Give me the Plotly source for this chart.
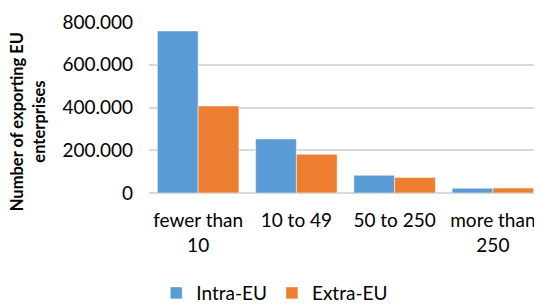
import plotly.graph_objects as go

categories = ["fewer than<br>10", "10 to 49", "50 to 250", "more than<br>250"]
intra_eu = [758000, 253000, 83000, 22000]
extra_eu = [407000, 181000, 73000, 23000]
y_ticks = [0, 200000, 400000, 600000, 800000]

FONT = "Lato"

fig = go.Figure()
fig.add_trace(go.Bar(name="Intra-EU", x=categories, y=intra_eu,
                     marker=dict(color="#5B9BD5", line=dict(color="white", width=0.5))))
fig.add_trace(go.Bar(name="Extra-EU", x=categories, y=extra_eu,
                     marker=dict(color="#ED7D31", line=dict(color="white", width=0.5))))

fig.update_layout(
    width=534, height=296,
    margin=dict(l=141, r=0, t=14, b=111, autoexpand=False),
    paper_bgcolor="white", plot_bgcolor="white",
    separators=",.",
    barmode="group", bargap=0.17, bargroupgap=0,
    font=dict(family=FONT, size=19, color="#000000"),
    showlegend=True,
    legend=dict(orientation="h", x=0.32, xanchor="center", y=-0.585, yanchor="middle",
                font=dict(size=19), traceorder="normal", itemwidth=30),
    xaxis=dict(showgrid=False, ticks="", tickfont=dict(size=19), showline=False,
               automargin=False, ticklabelstandoff=14),
    yaxis=dict(range=[0, 800000], tickvals=y_ticks, tickformat=",d",
               showgrid=True, gridcolor="#D9D9D9", gridwidth=1.5,
               zeroline=True, zerolinecolor="#D9D9D9", zerolinewidth=1.5,
               ticks="", tickfont=dict(size=19), ticklabelstandoff=15,
               automargin=False),
    annotations=[dict(text="<b>Number of exporting EU<br>enterprises</b>",
                      xref="paper", yref="paper", x=-0.31, y=0.415,
                      xanchor="center", yanchor="middle", textangle=-90,
                      showarrow=False, font=dict(size=16.5, family=FONT))],
)

fig.write_html("out.html")
